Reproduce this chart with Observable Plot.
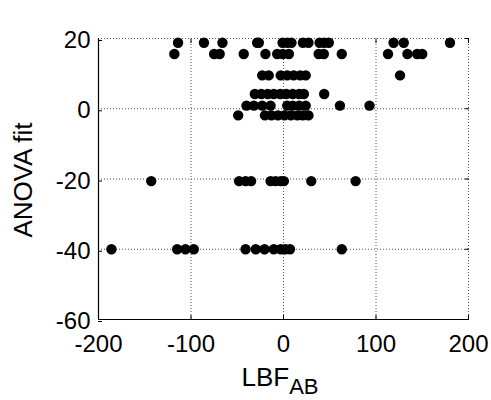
<!DOCTYPE html>
<html>
<head>
<meta charset="utf-8">
<script src="https://cdn.jsdelivr.net/npm/d3@7"></script>
<script src="https://cdn.jsdelivr.net/npm/@observablehq/plot@0.6"></script>
<style>
  html, body { margin: 0; padding: 0; background: #fff; }
  #chart { width: 491px; height: 400px; }
</style>
</head>
<body>
<div id="chart"></div>
<script>
// Tick values
const xTicks = [-200, -100, 0, 100, 200];
const yTicks = [-60, -40, -20, 0, 20];
const xLabelMain = "LBF";
const xLabelSub = "AB";
const yLabel = "ANOVA fit";

// Rows of points: y level (ANOVA fit) and LBF_AB values on that level
const rowY = [18.8, 15.6, 9.5, 4.2, 0.9, -1.9, -20.6, -40];
const row0 = [-114, -86, -66, -28.5, -26.7, -1, 4, 8.6, 21, 27, 39, 44, 49, 119, 130, 180];
const row1 = [-118, -75, -69, -43, -19.5, -6.8, -0.7, 5.8, 38, 43.6, 63, 113, 134, 144.5, 150];
const row2 = [-23, -16, -3, 4, 11, 18, 24, 126];
const row3 = [-31, -24, -17, -10.5, -3.6, 3, 10, 17, 22, 44];
const row4 = [-40, -32, -23, -14, 4, 10, 17, 24, 61, 93];
const row5 = [-49, -20, -13, -6, 1, 8, 15, 21, 27];
const row6 = [-143, -48, -41, -35, -14, -8.6, -3, 0.4, 30, 78];
const row7 = [-186, -115, -106, -97, -41, -30, -20.5, -10.5, -3, 2, 7, 63];

const rows = [row0, row1, row2, row3, row4, row5, row6, row7];
const data = rows.flatMap((r, i) => r.map(x => ({x, y: rowY[i]})));

const gridStyle = {stroke: "#555", strokeOpacity: 1, strokeDasharray: "1,2", strokeWidth: 1};
const fmt = d => String(d);

const plot = Plot.plot({
  width: 491,
  height: 400,
  marginLeft: 98,
  marginRight: 23,
  marginTop: 38,
  marginBottom: 81,
  style: {fontFamily: "'Liberation Sans', Arial, sans-serif", fontSize: "24px", color: "#000", background: "#fff"},
  x: {domain: [-200, 200], label: null},
  y: {domain: [-60, 20], label: null},
  marks: [
    Plot.gridX(xTicks.slice(1), gridStyle),
    Plot.gridY(yTicks.slice(1), gridStyle),
    Plot.ruleX([xTicks[0]], {stroke: "#000", strokeWidth: 1.2}),
    Plot.ruleY([yTicks[0]], {stroke: "#000", strokeWidth: 1.2}),
    Plot.axisX(xTicks, {anchor: "bottom", tickSize: -4, tickPadding: 19, fontSize: 24, tickFormat: fmt, label: null}),
    Plot.axisY(yTicks, {anchor: "left", tickSize: -4, tickPadding: 12, fontSize: 24, dy: 2, tickFormat: fmt, label: null}),
    Plot.axisX(xTicks, {anchor: "top", tickSize: -4, tickFormat: () => "", label: null}),
    Plot.axisY(yTicks, {anchor: "right", tickSize: -4, tickFormat: () => "", label: null}),
    Plot.dot(data, {x: "x", y: "y", r: 5.2, fill: "#000", stroke: "none"})
  ]
});

const svg = d3.select(plot);
// x axis label with subscript
const xl = svg.append("text")
  .attr("x", 280)
  .attr("y", 386)
  .attr("text-anchor", "middle")
  .attr("font-size", 26)
  .attr("fill", "#000");
xl.append("tspan").text(xLabelMain);
xl.append("tspan").attr("dy", 8).attr("font-size", 22).text(xLabelSub);

// y axis label
svg.append("text")
  .attr("transform", "translate(32,180) rotate(-90)")
  .attr("text-anchor", "middle")
  .attr("font-size", 26)
  .attr("fill", "#000")
  .text(yLabel);

document.getElementById("chart").appendChild(plot);
</script>
</body>
</html>
